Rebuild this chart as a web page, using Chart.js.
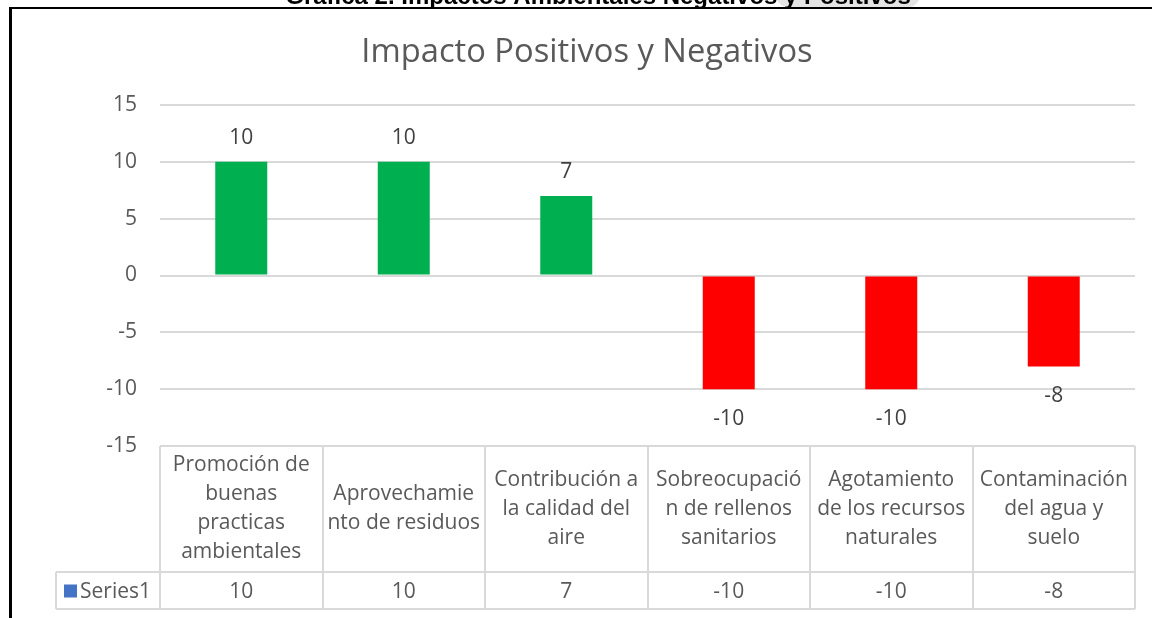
<!DOCTYPE html>
<html>
<head>
<meta charset="utf-8">
<script src="https://cdn.jsdelivr.net/npm/chart.js@4/dist/chart.umd.min.js"></script>
<style>
  html, body { margin: 0; padding: 0; background: #ffffff; }
  #wrap { position: relative; width: 1152px; height: 618px; overflow: hidden; }
  canvas { display: block; }
</style>
</head>
<body>
<div id="wrap"><canvas id="c" width="1152" height="618"></canvas></div>
<script>
// ---- data ----
const categoryLines = [
  ["Promoción de", "buenas", "practicas", "ambientales"],
  ["Aprovechamie", "nto de residuos"],
  ["Contribución a", "la calidad del", "aire"],
  ["Sobreocupació", "n de rellenos", "sanitarios"],
  ["Agotamiento", "de los recursos", "naturales"],
  ["Contaminación", "del agua y", "suelo"]
];
const seriesName = "Series1";
const values = [10, 10, 7, -10, -10, -8];
const yTicks = [-15, -10, -5, 0, 5, 10, 15];
const chartTitle = "Impacto Positivos y Negativos";
const caption = "Gráfica 2. Impactos Ambientales Negativos y Positivos";

const FONT = '"Open Sans", "DejaVu Sans", sans-serif';
const GREEN = '#00B050', RED = '#FF0000', KEY = '#4472C4';
const TXT = 21;

const decor = {
  id: 'decor',
  beforeDraw(chart) {
    const ctx = chart.ctx;
    ctx.save();
    ctx.fillStyle = '#e4e4e4';
    ctx.beginPath();
    if (ctx.roundRect) ctx.roundRect(776, -30, 144, 37, 12); else ctx.rect(776, -30, 144, 37);
    ctx.fill();
    ctx.fillStyle = '#000';
    ctx.font = 'bold 24px "Liberation Sans", Arial, sans-serif';
    ctx.textAlign = 'center';
    ctx.textBaseline = 'alphabetic';
    ctx.fillText(caption, 598, 4);
    ctx.fillStyle = '#000';
    ctx.fillRect(9, 7, 1143, 2);
    ctx.fillRect(9, 7, 3, 611);
    ctx.restore();
  },
  afterDraw(chart) {
    const ctx = chart.ctx;
    const ca = chart.chartArea;
    const xs = chart.scales.x;
    const n = categoryLines.length;
    const colW = (ca.right - ca.left) / n;
    ctx.save();
    // title
    ctx.fillStyle = '#595959';
    ctx.font = '32.7px ' + FONT;
    ctx.textAlign = 'center';
    ctx.textBaseline = 'middle';
    ctx.fillText(chartTitle, 587, 53);

    // data labels
    const meta = chart.getDatasetMeta(0);
    ctx.font = TXT + 'px ' + FONT;
    ctx.fillStyle = '#404040';
    meta.data.forEach((bar, i) => {
      const v = values[i];
      const y = v >= 0 ? bar.y - 24 : bar.y + 30;
      ctx.fillText(String(v), bar.x, y);
    });

    // data table
    const top = ca.bottom;
    const mid = top + 126;
    const bot = mid + 37;
    const keyLeft = 56;
    ctx.strokeStyle = '#d9d9d9';
    ctx.lineWidth = 2;
    ctx.beginPath();
    ctx.moveTo(ca.left, top); ctx.lineTo(ca.right, top);
    ctx.moveTo(keyLeft, mid); ctx.lineTo(ca.right, mid);
    ctx.moveTo(keyLeft, bot); ctx.lineTo(ca.right, bot);
    for (let i = 0; i <= n; i++) {
      const x = Math.round(ca.left + i * colW);
      ctx.moveTo(x, top); ctx.lineTo(x, bot);
    }
    ctx.moveTo(keyLeft, mid); ctx.lineTo(keyLeft, bot);
    ctx.stroke();

    ctx.fillStyle = '#595959';
    ctx.font = TXT + 'px ' + FONT;
    ctx.textAlign = 'center';
    ctx.textBaseline = 'middle';
    const lh = 29;
    categoryLines.forEach((lines, i) => {
      const cx = xs.getPixelForValue(i);
      const cy = (top + mid) / 2;
      const y0 = cy - (lines.length - 1) * lh / 2;
      lines.forEach((t, j) => ctx.fillText(t, cx, y0 + j * lh));
      ctx.fillText(String(values[i]), cx, (mid + bot) / 2 + 1.5);
    });
    ctx.fillStyle = KEY;
    ctx.fillRect(64, (mid + bot) / 2 - 6, 13, 13);
    ctx.fillStyle = '#595959';
    ctx.textAlign = 'left';
    ctx.fillText(seriesName, 80, (mid + bot) / 2 + 1.5);
    ctx.restore();
  }
};

new Chart(document.getElementById('c'), {
  type: 'bar',
  data: {
    labels: categoryLines.map(l => l.join(' ')),
    datasets: [{
      label: seriesName,
      data: values,
      backgroundColor: values.map(v => v >= 0 ? GREEN : RED),
      borderWidth: 0,
      barPercentage: 0.32,
      categoryPercentage: 1.0
    }]
  },
  options: {
    responsive: false,
    animation: false,
    events: [],
    layout: { padding: { left: 0, right: 17, top: 105, bottom: 172 } },
    plugins: { legend: { display: false }, title: { display: false }, tooltip: { enabled: false } },
    scales: {
      x: { display: false, offset: true },
      y: {
        min: yTicks[0], max: yTicks[yTicks.length - 1],
        afterBuildTicks(scale) { scale.ticks = yTicks.map(v => ({ value: v })); },
        afterFit(scale) { scale.width = 160; },
        border: { display: false },
        grid: { color: '#d9d9d9', lineWidth: 2, drawTicks: false },
        ticks: { color: '#595959', font: { family: FONT, size: TXT }, padding: 23 }
      }
    }
  },
  plugins: [decor]
});
</script>
</body>
</html>
